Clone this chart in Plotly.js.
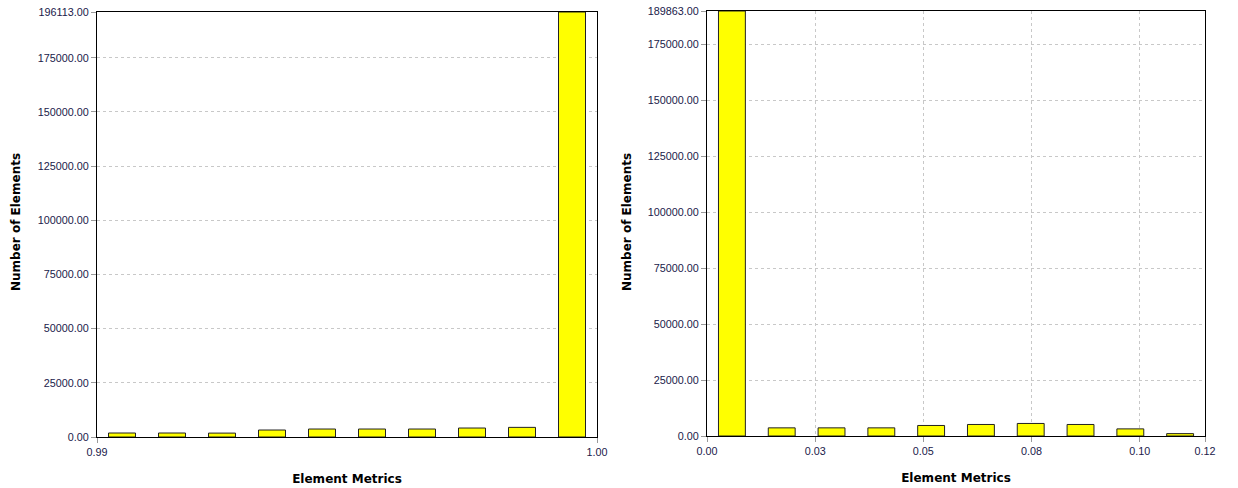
<!DOCTYPE html>
<html>
<head>
<meta charset="utf-8">
<script src="https://cdn.plot.ly/plotly-3.0.1.min.js"></script>
<style>html,body{margin:0;padding:0;background:#fff;}#chart{width:1238px;height:488px;}</style>
</head>
<body>
<div id="chart"></div>
<script>
// Left histogram (Element Metrics 0.99 - 1.00)
const leftBinCenters = [0.9905, 0.9915, 0.9925, 0.9935, 0.9945, 0.9955, 0.9965, 0.9975, 0.9985, 0.9995];
const leftCounts = [1840, 1840, 1800, 3220, 3680, 3680, 3680, 4140, 4450, 196113];
const leftBinWidth = 0.001;
const leftXRange = [0.99, 1.00];
const leftXTickVals = [0.99, 1.00];
const leftXTickText = ["0.99", "1.00"];
const leftYMax = 196113;

// Right histogram (Element Metrics 0 - 0.115)
const rightBinCenters = [0.00576, 0.01727, 0.02878, 0.04029, 0.05180, 0.06331, 0.07482, 0.08633, 0.09784, 0.10935];
const rightCounts = [189863, 3640, 3640, 3640, 4700, 5150, 5600, 5150, 3180, 1060];
const rightBinWidth = 0.01151;
const rightXRange = [0, 0.1151];
const rightXTickVals = [0, 0.025, 0.05, 0.075, 0.10, 0.1151];
const rightXTickText = ["0.00", "0.03", "0.05", "0.08", "0.10", "0.12"];
const rightYMax = 189863;

const yStepTicks = [0, 25000, 50000, 75000, 100000, 125000, 150000, 175000];

const xTitle = "Element Metrics";
const yTitle = "Number of Elements";

function yTicks(max) {
  const vals = yStepTicks.concat([max]);
  return {vals: vals, text: vals.map(v => v.toFixed(2))};
}

const barStyle = {color: '#ffff00', line: {color: '#222222', width: 1}};
const lyt = yTicks(leftYMax);
const ryt = yTicks(rightYMax);

const traces = [
  {type: 'bar', x: leftBinCenters, y: leftCounts, width: leftBinWidth * 0.54,
   marker: barStyle, xaxis: 'x', yaxis: 'y', hoverinfo: 'x+y', showlegend: false},
  {type: 'bar', x: rightBinCenters, y: rightCounts, width: rightBinWidth * 0.54,
   marker: barStyle, xaxis: 'x2', yaxis: 'y2', hoverinfo: 'x+y', showlegend: false}
];

const tickFont = {family: 'Liberation Sans, Arial, sans-serif', size: 10.8, color: '#20204a'};
const titleFont = {family: 'DejaVu Sans, sans-serif', size: 12, color: '#000000', weight: 'bold'};

const commonAxis = {
  showline: true, linecolor: '#000000', linewidth: 1, mirror: true,
  ticks: 'outside', ticklen: 5, tickcolor: '#9a9a9a',
  tickfont: tickFont, tickmode: 'array',
  showgrid: true, gridcolor: '#c8c8c8', griddash: '3px,3px', gridwidth: 1,
  zeroline: false, fixedrange: true
};

const layout = {
  width: 1238, height: 488,
  margin: {l: 0, r: 0, t: 0, b: 0},
  paper_bgcolor: '#ffffff', plot_bgcolor: '#ffffff',
  bargap: 0,
  xaxis: Object.assign({}, commonAxis, {
    domain: [97/1238, 597/1238], range: leftXRange,
    tickvals: leftXTickVals, ticktext: leftXTickText, anchor: 'y',
    showgrid: false,
    title: {text: xTitle, font: titleFont}
  }),
  yaxis: Object.assign({}, commonAxis, {
    domain: [1 - 437/488, 1 - 12/488], range: [0, leftYMax],
    tickvals: lyt.vals, ticktext: lyt.text, anchor: 'x'
  }),
  xaxis2: Object.assign({}, commonAxis, {
    domain: [707/1238, 1205/1238], range: rightXRange,
    tickvals: rightXTickVals, ticktext: rightXTickText, anchor: 'y2',
    title: {text: xTitle, font: titleFont}
  }),
  yaxis2: Object.assign({}, commonAxis, {
    domain: [1 - 436/488, 1 - 11/488], range: [0, rightYMax],
    tickvals: ryt.vals, ticktext: ryt.text, anchor: 'x2'
  }),
  annotations: [
    {text: yTitle, xref: 'paper', yref: 'paper', x: 16/1238, y: 1 - 222/488,
     textangle: -90, showarrow: false, font: titleFont, xanchor: 'center', yanchor: 'middle'},
    {text: yTitle, xref: 'paper', yref: 'paper', x: 627/1238, y: 1 - 222/488,
     textangle: -90, showarrow: false, font: titleFont, xanchor: 'center', yanchor: 'middle'}
  ]
};

Plotly.newPlot('chart', traces, layout, {displayModeBar: false, staticPlot: true});
</script>
</body>
</html>
